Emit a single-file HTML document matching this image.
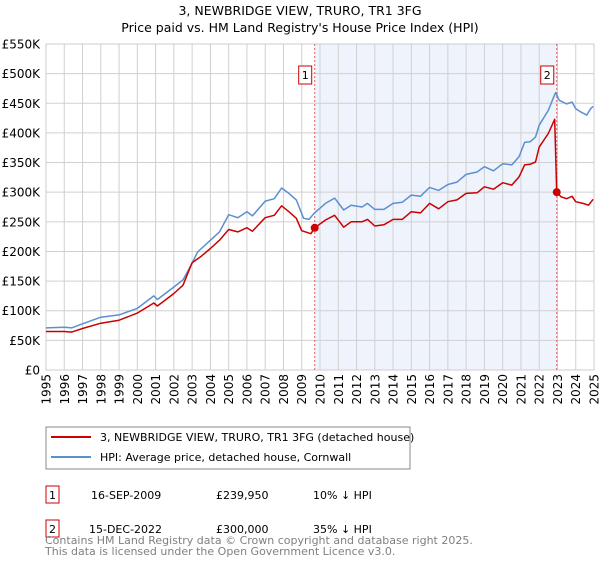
<!DOCTYPE html>
<html><head><meta charset="utf-8"><style>
body{margin:0;background:#fff;font-family:"Liberation Sans","DejaVu Sans",sans-serif;}
svg text{font-family:"DejaVu Sans","Liberation Sans",sans-serif;}
</style></head><body>
<svg id="chart" width="600" height="560" xmlns="http://www.w3.org/2000/svg">
<text x="300" y="15" text-anchor="middle" font-size="12.5" fill="#000">3, NEWBRIDGE VIEW, TRURO, TR1 3FG</text>
<text x="300" y="32" text-anchor="middle" font-size="12.5" fill="#000">Price paid vs. HM Land Registry's House Price Index (HPI)</text>
<g id="plot"></g>
<g>
<rect x="46" y="427" width="364" height="42" fill="#fff" stroke="#888"/>
<line x1="51" y1="437" x2="91" y2="437" stroke="#cc0000" stroke-width="2"/>
<text x="100" y="441" font-size="11">3, NEWBRIDGE VIEW, TRURO, TR1 3FG (detached house)</text>
<line x1="51" y1="457" x2="91" y2="457" stroke="#5b8fd0" stroke-width="2"/>
<text x="100" y="461" font-size="11">HPI: Average price, detached house, Cornwall</text>
</g>
<g font-size="11">
<rect x="46" y="486" width="13" height="17" fill="#fff" stroke="#cc0000"/>
<text x="52.5" y="499" text-anchor="middle">1</text>
<text x="91" y="499">16-SEP-2009</text>
<text x="216" y="499">£239,950</text>
<text x="313" y="499">10% ↓ HPI</text>
<rect x="46" y="520" width="13" height="17" fill="#fff" stroke="#cc0000"/>
<text x="52.5" y="533" text-anchor="middle">2</text>
<text x="89" y="533">15-DEC-2022</text>
<text x="216" y="533">£300,000</text>
<text x="313" y="533">35% ↓ HPI</text>
</g>
<text x="45" y="544" font-size="11" fill="#808080">Contains HM Land Registry data © Crown copyright and database right 2025.</text>
<text x="45" y="555" font-size="11" fill="#808080">This data is licensed under the Open Government Licence v3.0.</text>
</svg>
<script>
const yTicks=[0,50000,100000,150000,200000,250000,300000,350000,400000,450000,500000,550000];
const yTickLabels=["£0","£50K","£100K","£150K","£200K","£250K","£300K","£350K","£400K","£450K","£500K","£550K"];
const xYears=[1995,1996,1997,1998,1999,2000,2001,2002,2003,2004,2005,2006,2007,2008,2009,2010,2011,2012,2013,2014,2015,2016,2017,2018,2019,2020,2021,2022,2023,2024,2025];
const hpiT=[1995,1996,1996.4,1997,1998,1999,2000,2000.9,2001.1,2002,2002.5,2003,2003.3,2004,2004.5,2005,2005.5,2006,2006.3,2007,2007.5,2007.9,2008.3,2008.7,2009.1,2009.4,2009.7,2010.3,2010.8,2011.3,2011.7,2012.3,2012.6,2013,2013.5,2014,2014.5,2015,2015.5,2016,2016.5,2017,2017.5,2018,2018.6,2019,2019.5,2020,2020.5,2020.9,2021.2,2021.5,2021.8,2022,2022.5,2022.8,2022.9,2023.1,2023.5,2023.8,2024,2024.3,2024.6,2024.8,2024.95];
const hpiV=[71000,72000,71000,78000,89000,93000,104000,125000,119000,140000,152000,180000,199000,219000,233000,262000,257000,267000,260000,285000,289000,307000,298000,287000,256000,254000,265000,281000,290000,270000,278000,275000,281000,271000,271000,281000,283000,295000,293000,308000,303000,313000,317000,330000,334000,343000,336000,348000,346000,360000,384000,385000,393000,413000,438000,461000,468000,455000,449000,452000,441000,435000,430000,440000,445000];
const priceT=[1995,1996,1996.4,1997,1998,1999,2000,2000.9,2001.1,2002,2002.5,2003,2003.5,2004,2004.5,2005,2005.5,2006,2006.3,2006.6,2007,2007.5,2007.9,2008.3,2008.7,2009.0,2009.5,2009.71,2010.3,2010.8,2011.3,2011.7,2012.3,2012.6,2013,2013.5,2014,2014.5,2015,2015.5,2016,2016.5,2017,2017.5,2018,2018.6,2019,2019.5,2020,2020.5,2020.9,2021.2,2021.5,2021.8,2022,2022.5,2022.85,2022.96,2023.2,2023.5,2023.8,2024,2024.4,2024.7,2024.95];
const priceV=[65000,65000,64000,70000,79000,84000,96000,113000,108000,129000,143000,181000,192000,205000,219000,237000,233000,240000,234000,244000,257000,261000,277000,267000,256000,235000,230000,239950,253000,261000,241000,250000,250000,254000,243000,245000,254000,254000,267000,265000,281000,272000,284000,287000,298000,299000,309000,305000,316000,312000,326000,346000,347000,351000,376000,399000,423000,300000,292000,289000,293000,284000,281000,278000,288000];
const saleT=[2009.71,2022.96];
const saleV=[239950,300000];
const saleLabels=["1","2"];
const NS="http://www.w3.org/2000/svg";
const X0=46,X1=594,Y0=370,Y1=44;
const xs=t=>X0+(t-1995)/30*(X1-X0);
const ys=v=>Y0-v/550000*(Y0-Y1);
const g=document.getElementById('plot');
function mk(tag,at){const e=document.createElementNS(NS,tag);for(const k in at)e.setAttribute(k,at[k]);g.appendChild(e);return e;}
let r=mk('rect',{x:xs(saleT[0]),y:Y1,width:xs(saleT[1])-xs(saleT[0]),height:Y0-Y1,fill:'#eef3fc'});


yTicks.forEach((v,i)=>{
 let l=mk('line',{x1:X0,x2:X1,y1:ys(v),y2:ys(v),stroke:'#d0d0d0','stroke-width':1});
 
 
 let t=mk('text',{x:40,y:ys(v)+4.5,'text-anchor':'end','font-size':'12',fill:'#000'});
 t.textContent=yTickLabels[i];
 
 
});
xYears.forEach(yr=>{
 let l=mk('line',{x1:xs(yr),x2:xs(yr),y1:Y1,y2:Y0,stroke:'#d0d0d0','stroke-width':1});
 
 
 let t=mk('text',{x:0,y:0,'font-size':'12',fill:'#000','text-anchor':'end',transform:`translate(${xs(yr)+4.5},374) rotate(-90)`});
 t.textContent=yr;
 
 
});
let ax=mk('rect',{x:X0,y:Y1,width:X1-X0,height:Y0-Y1,fill:'none',stroke:'#ccc'});


saleT.forEach((t,i)=>{
 let l=mk('line',{x1:xs(t),x2:xs(t),y1:Y1,y2:Y0,stroke:'#e06060','stroke-width':1,'stroke-dasharray':'2,2'});
 
 
});
const pts=(T,V)=>T.map((t,i)=>xs(t).toFixed(1)+','+ys(V[i]).toFixed(1)).join(' ');
let hp=mk('polyline',{points:pts(hpiT,hpiV),fill:'none',stroke:'#5b8fd0','stroke-width':1.5,'stroke-linejoin':'round'});


let pp=mk('polyline',{points:pts(priceT,priceV),fill:'none',stroke:'#cc0000','stroke-width':1.5,'stroke-linejoin':'round'});


saleT.forEach((t,i)=>{
 let c=mk('circle',{cx:xs(t),cy:ys(saleV[i]),r:4,fill:'#cc0000'});
 
 
 let b=mk('rect',{x:xs(t)-16,y:66,width:13,height:18,fill:'#fff',stroke:'#cc0000'});
 
 
 let tx=mk('text',{x:xs(t)-9.5,y:79,'text-anchor':'middle','font-size':'11'});
 tx.textContent=saleLabels[i];
 
 
});
</script>
</body></html>
